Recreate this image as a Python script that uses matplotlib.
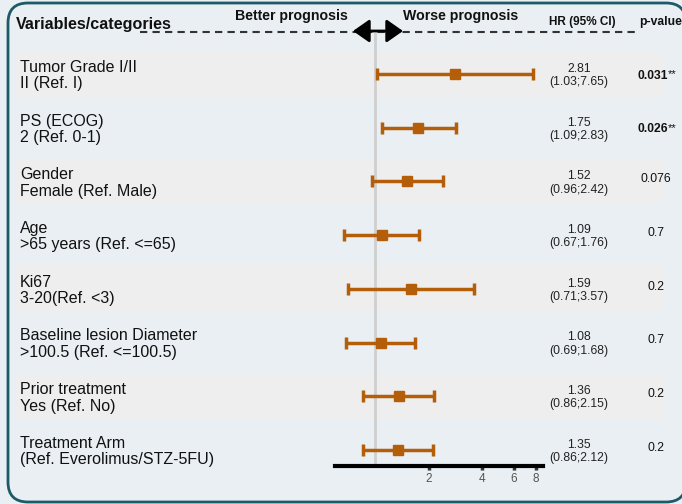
import numpy as np
import matplotlib.pyplot as plt
from matplotlib.patches import Rectangle, FancyBboxPatch
from matplotlib.transforms import blended_transform_factory

plt.rcParams['font.family'] = ['Liberation Sans', 'DejaVu Sans']

# Cox model results, one row per variable
labels = [
    "Tumor Grade I/II\nII (Ref. I)",
    "PS (ECOG)\n2 (Ref. 0-1)",
    "Gender\nFemale (Ref. Male)",
    "Age\n>65 years (Ref. <=65)",
    "Ki67\n3-20(Ref. <3)",
    "Baseline lesion Diameter\n>100.5 (Ref. <=100.5)",
    "Prior treatment\nYes (Ref. No)",
    "Treatment Arm\n(Ref. Everolimus/STZ-5FU)",
]
hr = np.array([2.81, 1.75, 1.52, 1.09, 1.59, 1.08, 1.36, 1.35])
ci_low = np.array([1.03, 1.09, 0.96, 0.67, 0.71, 0.69, 0.86, 0.86])
ci_high = np.array([7.65, 2.83, 2.42, 1.76, 3.57, 1.68, 2.15, 2.12])
p_values = ["0.031", "0.026", "0.076", "0.7", "0.2", "0.7", "0.2", "0.2"]
significant = [True, True, False, False, False, False, False, False]
x_ticks = [2, 4, 6, 8]

BG = '#e9eff2'
BAND = '#eeeeee'
BORDER = '#1d5a68'
ORANGE = '#b45e0a'

W, H = 682, 504
fig = plt.figure(figsize=(W / 100, H / 100), dpi=100, facecolor=BG)

# background layer in pixel units
bg = fig.add_axes([0, 0, 1, 1], zorder=0)
bg.set_xlim(0, W)
bg.set_ylim(H, 0)
bg.axis('off')
bg.add_patch(FancyBboxPatch((8, 3), 678, 499, boxstyle='round,pad=0,rounding_size=20',
                            facecolor=BG, edgecolor=BORDER, linewidth=2))

# forest plot axes (log scale, rows top to bottom)
ax_left, ax_right, ax_top, ax_bottom = 335.4, 542.6, 33, 466
ax = fig.add_axes([ax_left / W, 1 - ax_bottom / H, (ax_right - ax_left) / W, (ax_bottom - ax_top) / H],
                  zorder=2)
ax.patch.set_alpha(0)
ax.set_xscale('log')
ax.set_xlim(0.6, 8.7)
row_px = 53.7
ax.set_ylim((ax_bottom - 74) / row_px, (ax_top - 74) / row_px)
rows = np.arange(len(labels))

ax.axvline(1, color='#cfcfcf', linewidth=2, zorder=1)
ax.errorbar(hr, rows, xerr=[hr - ci_low, ci_high - hr], fmt='s', color=ORANGE,
            markersize=7, elinewidth=2.5, capsize=4.5, capthick=2.5, zorder=3)

for side in ['top', 'left', 'right']:
    ax.spines[side].set_visible(False)
ax.spines['bottom'].set_linewidth(3)
ax.spines['bottom'].set_color('black')
ax.set_yticks([])
ax.set_xticks(x_ticks)
ax.set_xticklabels([str(t) for t in x_ticks])
ax.xaxis.set_minor_locator(plt.NullLocator())
ax.tick_params(axis='x', direction='out', length=3, width=2.5, color='#333333',
               labelsize=8.5, labelcolor='#555555', pad=2)

# row bands and text columns share the row positions of the forest axes
trans = blended_transform_factory(bg.transData, ax.transData)
for r in rows:
    if r % 2 == 0:
        bg.add_patch(Rectangle((15, r - 0.42), 649, 0.84, transform=trans,
                               facecolor=BAND, edgecolor='none', zorder=1))
    bg.text(20, r + 0.03, labels[r], transform=trans, ha='left', va='center',
            fontsize=11.5, color='#111111', linespacing=1.13, zorder=2)
    bg.text(579, r + 0.03, f"{hr[r]:.2f}\n({ci_low[r]:.2f};{ci_high[r]:.2f})", transform=trans,
            ha='center', va='center', fontsize=8.7, color='#222222', linespacing=1.14, zorder=2)
    if significant[r]:
        bg.text(668, r + 0.03, p_values[r], transform=trans, ha='right', va='center',
                fontsize=8.7, fontweight='bold', color='#111111', zorder=2)
        bg.text(668, r + 0.0, "**", transform=trans, ha='left', va='center',
                fontsize=8, color='#111111', zorder=2)
    else:
        bg.text(656, r - 0.04, p_values[r], transform=trans, ha='center', va='center',
                fontsize=8.7, color='#111111', zorder=2)

# header
bg.text(16, 24, "Variables/categories", ha='left', va='center', fontsize=11.6,
        fontweight='bold', color='#111111')
bg.text(291, 16, "Better prognosis", ha='center', va='center', fontsize=10.2,
        fontweight='bold', color='#111111')
bg.text(461, 16, "Worse prognosis", ha='center', va='center', fontsize=10.2,
        fontweight='bold', color='#111111')
bg.text(582, 22, "HR (95% CI)", ha='center', va='center', fontsize=8.5,
        fontweight='bold', color='#111111')
bg.text(639, 22, "p-value", ha='left', va='center', fontsize=8.7,
        fontweight='bold', color='#111111')
bg.plot([140, 636], [32, 32], color='#333333', linewidth=1.5, linestyle=(0, (3.5, 2.5)), zorder=3)
bg.annotate('', xy=(353, 31), xytext=(403, 31),
            arrowprops=dict(arrowstyle='<|-|>,head_length=0.5,head_width=0.35',
                            mutation_scale=20, color='black', linewidth=2,
                            shrinkA=0, shrinkB=0), zorder=4)

fig.savefig('out.png', dpi=100, facecolor=BG)
